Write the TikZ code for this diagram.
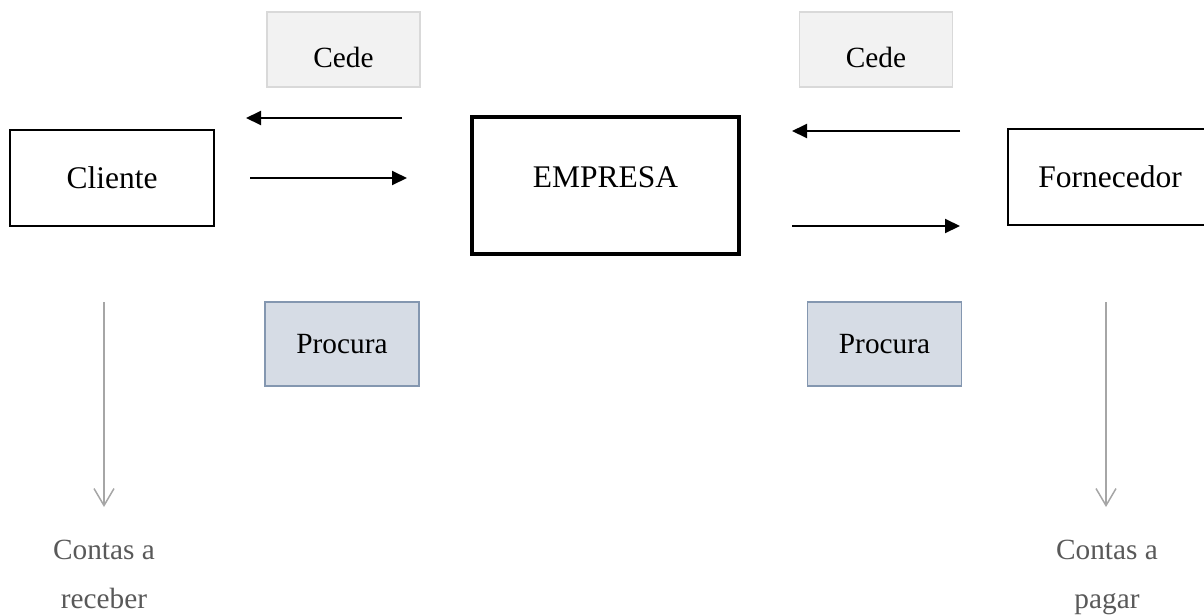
\documentclass[tikz,border=0pt]{standalone}
\usepackage{fontspec}
\setmainfont{Liberation Serif}
\usepackage{tikz}
\usetikzlibrary{arrows.meta}

\definecolor{cedefill}{HTML}{F2F2F2}
\definecolor{cedeline}{HTML}{D9D9D9}
\definecolor{procfill}{HTML}{D6DCE5}
\definecolor{procline}{HTML}{8497B0}
\definecolor{contasline}{HTML}{A6A6A6}
\definecolor{contastext}{HTML}{595959}

\begin{document}
\begin{tikzpicture}[x=1pt, y=-1pt,
        party/.style={draw, line width=1.5pt, minimum width=204pt, minimum height=96pt,
            inner sep=0pt, font=\fontsize{31.5}{38}\selectfont},
        cedebox/.style={draw=cedeline, fill=cedefill, line width=1.5pt, minimum width=153pt,
            minimum height=75pt, inner sep=0pt, text height=35pt, text depth=0pt,
            font=\fontsize{29.3}{35}\selectfont},
        procbox/.style={draw=procline, fill=procfill, line width=1.8pt, minimum width=154pt,
            minimum height=84pt, inner sep=0pt, font=\fontsize{29.3}{35}\selectfont},
        contas/.style={text=contastext, align=center, inner sep=0pt,
            font=\fontsize{29.3}{49}\selectfont},
        flow/.style={line width=2pt, -{Triangle[length=15pt,width=14pt]}},
        down/.style={draw=contasline, line width=1.5pt, -{Straight Barb[length=17pt,width=20pt]}}]
        \useasboundingbox (0,0) rectangle (1204,614);

        % main boxes
        \node[party] (cliente) at (112,178) {Cliente};
        \node[party, line width=3.5pt, minimum width=267pt, minimum height=137pt, text depth=16pt] (empresa) at (605.5,185.5) {EMPRESA};
        \node[party] (fornecedor) at (1110,177) {Fornecedor};

        % labels
        \node[cedebox] (cedeA) at (343.5,49.5) {Cede};
        \node[cedebox] (cedeB) at (876,49.5) {Cede};
        \node[procbox] (procuraA) at (342,344) {Procura};
        \node[procbox] (procuraB) at (884.5,344) {Procura};

        % flows
        \coordinate (a1) at (402,118);
        \coordinate (a2) at (246,118);
        \coordinate (a3) at (250,178);
        \coordinate (a4) at (407,178);
        \draw[flow] (a1) -- (a2);
        \draw[flow] (a3) -- (a4);

        \coordinate (b1) at (960,131);
        \coordinate (b2) at (792,131);
        \coordinate (b3) at (792,226);
        \coordinate (b4) at (960,226);
        \draw[flow] (b1) -- (b2);
        \draw[flow] (b3) -- (b4);

        % contas
        \node[contas, anchor=north] (receber) at (104,540) {Contas a\\receber};
        \node[contas, anchor=north] (pagar) at (1107,540) {Contas a\\pagar};
        \coordinate (r1) at (104,302);
        \coordinate (r2) at (104,507);
        \coordinate (p1) at (1106,302);
        \coordinate (p2) at (1106,507);
        \draw[down] (r1) -- (r2);
        \draw[down] (p1) -- (p2);
    \end{tikzpicture}
\end{document}
